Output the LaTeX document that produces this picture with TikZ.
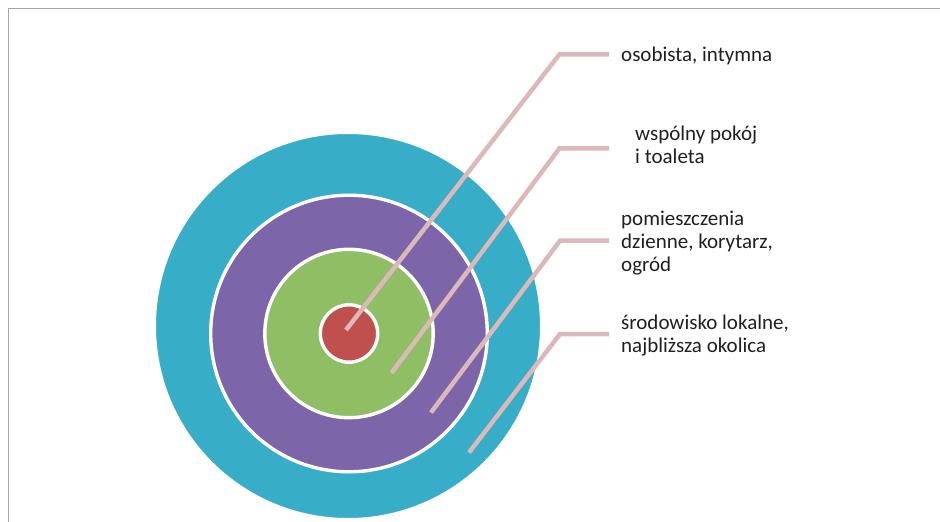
\documentclass[tikz,border=0pt]{standalone}
\usepackage{fontspec}
\setmainfont{Carlito}
\definecolor{ringTeal}{HTML}{37ADC8}
\definecolor{ringPurple}{HTML}{7C65A9}
\definecolor{ringGreen}{HTML}{90BE64}
\definecolor{ringRed}{HTML}{C0504D}
\definecolor{leader}{HTML}{DDB8B8}
\definecolor{frameGrey}{HTML}{A6A6A6}
\definecolor{labelText}{HTML}{1F1F1F}
\begin{document}
\begin{tikzpicture}[x=1pt,y=-1pt,
  ring/.style={circle,inner sep=0pt,outer sep=0pt,draw=white,line width=3.4pt},
  leaderline/.style={draw=leader,line width=4.5pt,line join=miter},
  lbl/.style={anchor=west,align=left,inner ysep=0pt,inner xsep=12pt,text=labelText,
    font=\fontsize{21pt}{23pt}\selectfont},
  frameline/.style={draw=frameGrey,line width=1.5pt}]
\useasboundingbox (0,0) rectangle (940,522);
% sheet frame (top and left edges)
\draw[frameline] (8.5,522) -- (8.5,8.5) -- (940,8.5);

% concentric zones
\node[ring,fill=ringTeal,minimum size=387.4pt] (zone4) at (348,326) {};
\node[ring,fill=ringPurple,minimum size=276.6pt] (zone3) at (349,333.5) {};
\node[ring,fill=ringGreen,minimum size=168.4pt] (zone2) at (349,333.5) {};
\node[ring,fill=ringRed,minimum size=57.4pt] (zone1) at (349,333.5) {};

% leader start points inside each zone and their elbows
\coordinate (p1) at (346,330);
\coordinate (p2) at (391.5,373);
\coordinate (p3) at (431,412.5);
\coordinate (p4) at (469,452.5);
\coordinate (c1) at (559.5,54.3);
\coordinate (c2) at (559.5,148.3);
\coordinate (c3) at (560,240.7);
\coordinate (c4) at (560,334);

% labels
\node[lbl] (l1) at (609,56) {osobista, intymna};
\node[lbl,inner xsep=26pt] (l2) at (609,145) {wspólny pokój\\i toaleta};
\node[lbl] (l3) at (609,242.6) {pomieszczenia\\dzienne, korytarz,\\ogród};
\node[lbl] (l4) at (609,335.4) {środowisko lokalne,\\najbliższa okolica};

% leaders
\draw[leaderline] (p1) -- (c1) -- (c1 -| l1.west);
\draw[leaderline] (p2) -- (c2) -- (c2 -| l2.west);
\draw[leaderline] (p3) -- (c3) -- (c3 -| l3.west);
\draw[leaderline] (p4) -- (c4) -- (c4 -| l4.west);
\end{tikzpicture}
\end{document}
